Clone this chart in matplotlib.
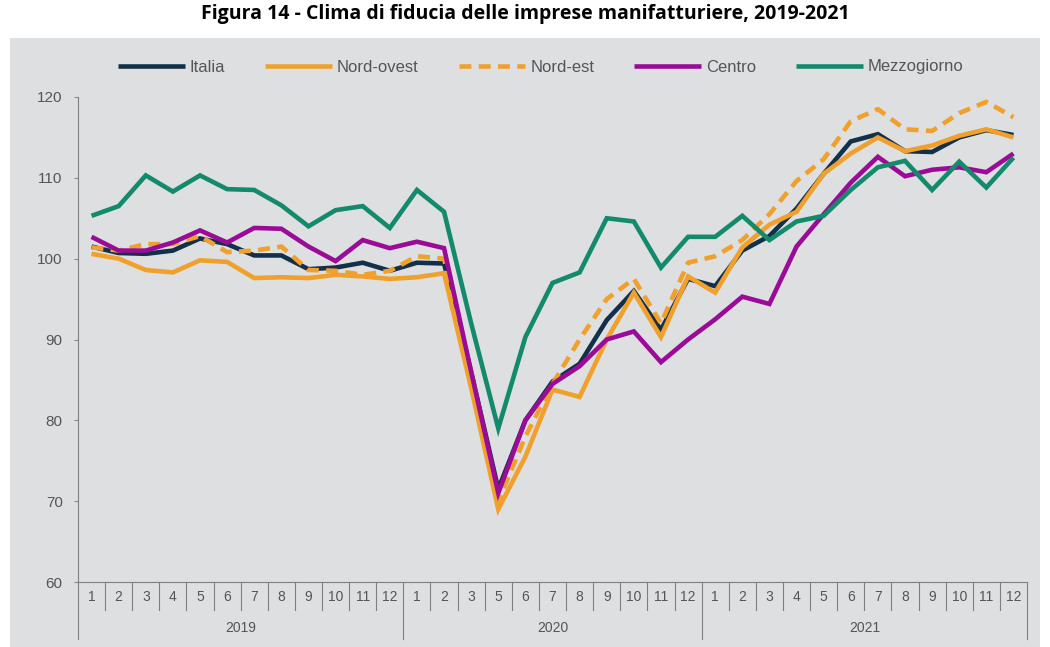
import matplotlib
import matplotlib.patches
import matplotlib.pyplot as plt

YEARS = ['2019', '2020', '2021']
MONTHS = [
    [1, 2, 3, 4, 5, 6, 7, 8, 9, 10, 11, 12],
    [1, 2, 3, 5, 6, 7, 8, 9, 10, 11, 12],
    [1, 2, 3, 4, 5, 6, 7, 8, 9, 10, 11, 12],
]

ITALIA = [101.5, 100.7, 100.6, 101.0, 102.5, 101.8, 100.4, 100.4, 98.7, 98.9, 99.5, 98.5,
          99.5, 99.4, 86.0, 71.5, 80.0, 84.8, 87.0, 92.4, 96.0, 91.2, 97.5,
          96.6, 101.0, 102.8, 106.2, 110.5, 114.5, 115.4, 113.3, 113.2, 115.0, 115.9, 115.3]
NORD_OVEST = [100.6, 100.0, 98.6, 98.3, 99.8, 99.6, 97.6, 97.7, 97.6, 98.0, 97.8, 97.5,
              97.7, 98.2, 84.0, 69.0, 75.5, 83.8, 82.9, 90.0, 95.8, 90.3, 97.8,
              95.8, 101.4, 104.2, 105.8, 110.5, 113.0, 115.0, 113.3, 114.0, 115.2, 116.0, 115.0]
NORD_EST = [101.4, 101.0, 101.8, 101.8, 102.8, 100.8, 101.0, 101.5, 98.6, 98.5, 98.0, 98.5,
            100.3, 100.0, 86.0, 70.0, 78.0, 84.5, 90.0, 95.0, 97.5, 92.0, 99.5,
            100.3, 102.3, 105.5, 109.6, 112.3, 117.0, 118.5, 116.0, 115.8, 118.0, 119.4, 117.5]
CENTRO = [102.7, 101.0, 101.0, 102.0, 103.5, 102.0, 103.8, 103.7, 101.5, 99.7, 102.3, 101.3,
          102.1, 101.3, 86.0, 71.0, 80.0, 84.5, 86.7, 90.0, 91.0, 87.2, 90.0,
          92.5, 95.3, 94.4, 101.5, 105.5, 109.4, 112.6, 110.2, 111.0, 111.3, 110.7, 113.0]
MEZZOGIORNO = [105.3, 106.5, 110.3, 108.3, 110.3, 108.6, 108.5, 106.6, 104.0, 106.0, 106.5, 103.8,
               108.5, 105.8, 92.0, 79.0, 90.3, 97.0, 98.3, 105.0, 104.6, 98.9, 102.7,
               102.7, 105.3, 102.3, 104.6, 105.3, 108.5, 111.3, 112.1, 108.5, 112.0, 108.8, 112.5]

SERIES = [
    ('Italia', ITALIA, '#13304a', '-'),
    ('Nord-ovest', NORD_OVEST, '#f0a02c', '-'),
    ('Nord-est', NORD_EST, '#f0a02c', '--'),
    ('Centro', CENTRO, '#9a0c97', '-'),
    ('Mezzogiorno', MEZZOGIORNO, '#138a6c', '-'),
]

TEXT_GRAY = '#555555'
plt.rcParams['font.family'] = ['Liberation Sans', 'DejaVu Sans']

fig = plt.figure(figsize=(10.5, 6.47), dpi=100)
fig.patches.append(matplotlib.patches.Rectangle(
    (10/1050, 0), 1030/1050, 1-38/647, transform=fig.transFigure,
    facecolor='#dedfe1', edgecolor='none', zorder=-10))
fig.text(0.5, 1-14/647,
         'Figura 14 - Clima di fiducia delle imprese manifatturiere, 2019-2021',
         ha='center', va='center', fontsize=14, fontweight='bold',
         family=['Open Sans', 'DejaVu Sans'])

ax = fig.add_axes([78/1050, 1-582/647, (1027-78)/1050, (582-97)/647])
ax.set_facecolor('none')

n_points = sum(len(m) for m in MONTHS)
x_pos = [i + 0.5 for i in range(n_points)]
handles = []
for name, values, color, style in SERIES:
    line, = ax.plot(x_pos, values, color=color, linewidth=3.3, label=name,
                    solid_joinstyle='miter', solid_capstyle='butt')
    if style == '--':
        line.set_dashes((2.6, 1.6))
    handles.append(line)

ax.set_xlim(0, n_points)
ax.set_ylim(60, 120)
ax.set_yticks([60, 70, 80, 90, 100, 110, 120])
ax.tick_params(axis='y', colors='#888888', labelcolor=TEXT_GRAY,
               labelsize=11, length=3, width=0.8, pad=8)
for side in ['top', 'right']:
    ax.spines[side].set_visible(False)
ax.spines['left'].set_color('#808080')
ax.spines['bottom'].set_color('#808080')
ax.set_xticks([])

# two-level category axis: months, then years
trans = ax.get_xaxis_transform()
pos = 0
for year, months in zip(YEARS, MONTHS):
    ax.plot([pos, pos], [0, -0.118], transform=trans, color='#808080',
            linewidth=0.8, clip_on=False)
    for k, month in enumerate(months):
        if k > 0:
            ax.plot([pos + k, pos + k], [0, -0.058], transform=trans,
                    color='#808080', linewidth=0.8, clip_on=False)
        ax.text(pos + k + 0.5, -0.031, str(month), transform=trans,
                ha='center', va='center', fontsize=10, color=TEXT_GRAY)
    ax.text(pos + len(months)/2, -0.095, year, transform=trans,
            ha='center', va='center', fontsize=10, color=TEXT_GRAY)
    pos += len(months)
ax.plot([pos, pos], [0, -0.118], transform=trans, color='#808080',
        linewidth=0.8, clip_on=False)

fig.legend(handles, [s[0] for s in SERIES], loc='center',
           bbox_to_anchor=(0.515, 1-67/647), ncol=5, frameon=False,
           handlelength=4.0, handletextpad=0.3, columnspacing=2.4,
           fontsize=12, labelcolor=TEXT_GRAY)

fig.savefig('out.png', dpi=100)
